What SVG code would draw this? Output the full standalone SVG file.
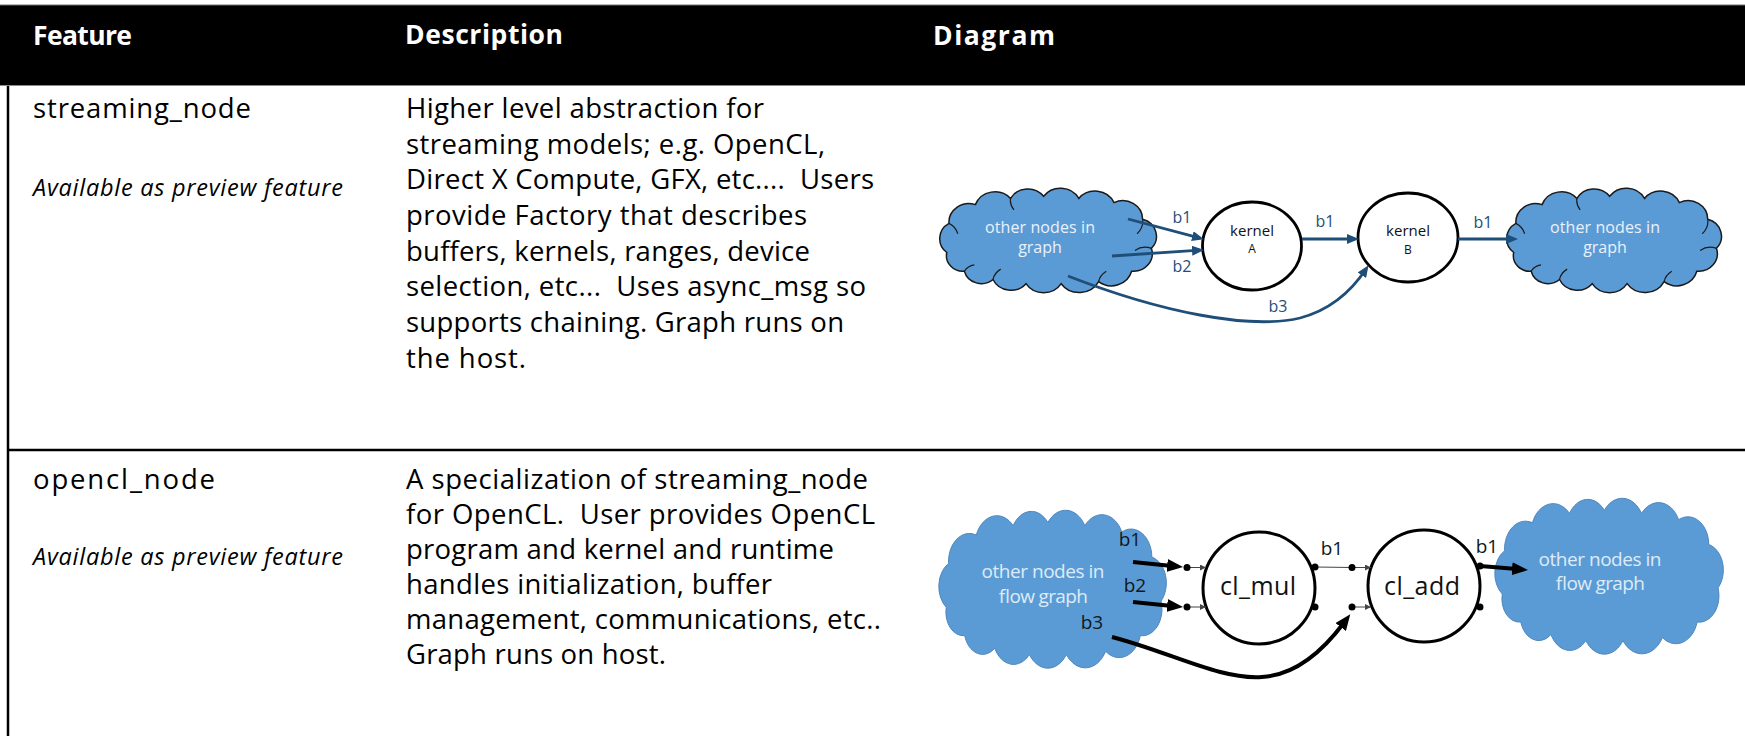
<svg xmlns="http://www.w3.org/2000/svg" width="1745" height="736" viewBox="0 0 1745 736">
  <style>
    text { font-family: "Open Sans", "Noto Sans", "Liberation Sans", sans-serif; white-space: pre; }
    .hdr { font-size: 26.5px; font-weight: 700; fill: #fff; }
    .feat { font-size: 27.5px; fill: #000; }
    .note { font-size: 23.5px; font-style: italic; fill: #000; }
    .desc { font-size: 27.5px; fill: #000; }
    .rule { stroke: #000; stroke-width: 2.5; fill: none; }
    .cloudA { fill: #5b9bd5; stroke: #1a1a1a; stroke-width: 1.5; }
    .cloudA-hooks { fill: none; stroke: #1a1a1a; stroke-width: 1.2; }
    .cloudB { fill: #5b9bd5; stroke: #4f86bd; stroke-width: 1; }
    .cloud-txtA { font-size: 16px; fill: #eaf1fb; text-anchor: middle; }
    .cloud-txtB { font-size: 19px; fill: #deebf7; text-anchor: middle; }
    .kern { fill: #fff; stroke: #000; stroke-width: 2.8; }
    .kern-txt { font-size: 15px; fill: #111; text-anchor: middle; }
    .kern-sub { font-size: 12px; fill: #111; text-anchor: middle; }
    .cl { fill: #fff; stroke: #000; stroke-width: 3; }
    .cl-txt { font-size: 25px; fill: #111; text-anchor: middle; }
    .navy { fill: none; stroke: #1f4e79; stroke-width: 2.8; marker-end: url(#headNavy); }
    .navy-lbl { font-size: 16px; fill: #1f4e79; text-anchor: middle; }
    .thick { fill: none; stroke: #000; stroke-width: 4; marker-end: url(#headBlack); }
    .thin { fill: none; stroke: #444; stroke-width: 1; }
    .thin-arrow { fill: none; stroke: #444; stroke-width: 1; marker-end: url(#headTiny); }
    .port { fill: #000; }
    .blk-lbl { font-size: 19px; fill: #101820; text-anchor: middle; }
  </style>
  <defs>
    <!-- cloud outline drawn in a 200 x 100 box -->
    <path id="cloudShape" vector-effect="non-scaling-stroke"
          d="M8,62 A17,17 0 0 1 10,34 A18,18 0 0 1 34,16 A19,19 0 0 1 66,10 A18,18 0 0 1 96,8 A19,19 0 0 1 128,10 A19,19 0 0 1 160,14 A18,18 0 0 1 186,30 A17,17 0 0 1 194,58 A17,17 0 0 1 176,80 A19,19 0 0 1 146,90 A20,20 0 0 1 112,92 A19,19 0 0 1 80,92 A18,18 0 0 1 50,88 A16,16 0 0 1 24,80 A15,15 0 0 1 8,62 Z"/>
    <!-- small inner arcs where the cloud bumps overlap -->
    <path id="cloudHooks" vector-effect="non-scaling-stroke"
          d="M10,34 Q16,37 18,44 M66,10 Q65,16 69,21 M186,30 Q187,38 181,44 M194,58 Q186,55 179,60 M146,90 Q147,84 153,80 M50,88 Q51,82 57,78 M24,80 Q27,75 33,74"/>
    <marker id="headNavy" viewBox="0 0 12 10" refX="8" refY="5" markerWidth="12" markerHeight="10" markerUnits="userSpaceOnUse" orient="auto">
      <path d="M0,0 L12,5 L0,10 z" fill="#1f4e79"/>
    </marker>
    <marker id="headBlack" viewBox="0 0 16 13" refX="5" refY="6.5" markerWidth="16" markerHeight="13" markerUnits="userSpaceOnUse" orient="auto">
      <path d="M0,0 L16,6.5 L0,13 z" fill="#000"/>
    </marker>
    <marker id="headTiny" viewBox="0 0 6 6" refX="6" refY="3" markerWidth="6" markerHeight="6" markerUnits="userSpaceOnUse" orient="auto">
      <path d="M0,0 L6,3 L0,6 z" fill="#444"/>
    </marker>
  </defs>

  <rect width="1745" height="736" fill="#fff"/>

  <!-- table frame -->
  <g id="table">
    <rect x="0" y="5" width="1745" height="80" fill="#000"/>
    <line x1="0" y1="5" x2="1745" y2="5" stroke="#6e6e6e" stroke-width="1"/>
    <line x1="0" y1="85.5" x2="1745" y2="85.5" stroke="#8a8a8a" stroke-width="1"/>
    <line class="rule" x1="8" y1="86" x2="8" y2="736" stroke-width="2"/>
    <line class="rule" x1="8" y1="450" x2="1745" y2="450"/>
  </g>

  <g id="header">
    <text class="hdr" x="33" y="45" textLength="99">Feature</text>
    <text class="hdr" x="405" y="44" textLength="158">Description</text>
    <text class="hdr" x="933" y="45" textLength="122">Diagram</text>
  </g>

  <g id="row-streaming-node">
    <text class="feat" x="33" y="118" textLength="218">streaming_node</text>
    <text class="note" x="33" y="196" textLength="310">Available as preview feature</text>
    <text class="desc" x="406" y="118" textLength="358">Higher level abstraction for</text>
    <text class="desc" x="406" y="154" textLength="419">streaming models; e.g. OpenCL,</text>
    <text class="desc" x="406" y="189" textLength="468">Direct X Compute, GFX, etc....  Users</text>
    <text class="desc" x="406" y="225" textLength="401">provide Factory that describes</text>
    <text class="desc" x="406" y="261" textLength="404">buffers, kernels, ranges, device</text>
    <text class="desc" x="406" y="296" textLength="460">selection, etc...  Uses async_msg so</text>
    <text class="desc" x="406" y="332" textLength="438">supports chaining. Graph runs on</text>
    <text class="desc" x="406" y="368" textLength="120">the host.</text>
  </g>

  <g id="row-opencl-node">
    <text class="feat" x="33" y="489" textLength="182">opencl_node</text>
    <text class="note" x="33" y="565" textLength="310">Available as preview feature</text>
    <text class="desc" x="406" y="489" textLength="462">A specialization of streaming_node</text>
    <text class="desc" x="406" y="524" textLength="469">for OpenCL.  User provides OpenCL</text>
    <text class="desc" x="406" y="559" textLength="428">program and kernel and runtime</text>
    <text class="desc" x="406" y="594" textLength="366">handles initialization, buffer</text>
    <text class="desc" x="406" y="629" textLength="475">management, communications, etc..</text>
    <text class="desc" x="406" y="664" textLength="260">Graph runs on host.</text>
  </g>

  <!-- streaming_node diagram -->
  <g id="sn-source-cloud">
    <use href="#cloudShape" class="cloudA" transform="translate(938,188) scale(1.1,1.04)"/>
    <use href="#cloudHooks" class="cloudA-hooks" transform="translate(938,188) scale(1.1,1.04)"/>
    <text class="cloud-txtA" x="1040" y="233" textLength="110">other nodes in</text>
    <text class="cloud-txtA" x="1040" y="253">graph</text>
  </g>
  <g id="sn-kernel-a">
    <ellipse class="kern" cx="1252" cy="246" rx="49.5" ry="44"/>
    <text class="kern-txt" x="1252" y="236">kernel</text>
    <text class="kern-sub" x="1252" y="253">A</text>
  </g>
  <g id="sn-kernel-b">
    <ellipse class="kern" cx="1408" cy="237.5" rx="50" ry="44.5"/>
    <text class="kern-txt" x="1408" y="236">kernel</text>
    <text class="kern-sub" x="1408" y="254">B</text>
  </g>
  <g id="sn-sink-cloud">
    <use href="#cloudShape" class="cloudA" transform="translate(1505,188) scale(1.09,1.04)"/>
    <use href="#cloudHooks" class="cloudA-hooks" transform="translate(1505,188) scale(1.09,1.04)"/>
    <text class="cloud-txtA" x="1605" y="233" textLength="110">other nodes in</text>
    <text class="cloud-txtA" x="1605" y="253">graph</text>
  </g>
  <g id="sn-connectors">
    <path class="navy" d="M1128,219 L1200.1,238.2"/>
    <path class="navy" d="M1112,256 L1200,250.2"/>
    <path class="navy" d="M1068,276 C1160,312 1250,330 1300,318 C1330,310 1351,292 1366.3,268.5"/>
    <path class="navy" d="M1302,239 L1355,239"/>
    <path class="navy" d="M1458,239 L1514,239"/>
    <text class="navy-lbl" x="1182" y="223">b1</text>
    <text class="navy-lbl" x="1182" y="272">b2</text>
    <text class="navy-lbl" x="1278" y="312">b3</text>
    <text class="navy-lbl" x="1325" y="227">b1</text>
    <text class="navy-lbl" x="1483" y="228">b1</text>
  </g>

  <!-- opencl_node diagram -->
  <g id="cl-source-cloud">
    <use href="#cloudShape" class="cloudB" transform="translate(937,510) scale(1.155,1.57)"/>
    <text class="cloud-txtB" x="1043" y="578" textLength="123">other nodes in</text>
    <text class="cloud-txtB" x="1043" y="603" textLength="89">flow graph</text>
  </g>
  <g id="cl-mul">
    <circle class="cl" cx="1259" cy="588" r="56"/>
    <text class="cl-txt" x="1258" y="595" textLength="76">cl_mul</text>
  </g>
  <g id="cl-add">
    <circle class="cl" cx="1424" cy="586" r="56"/>
    <text class="cl-txt" x="1422" y="595" textLength="76">cl_add</text>
  </g>
  <g id="cl-sink-cloud">
    <use href="#cloudShape" class="cloudB" transform="translate(1493,498) scale(1.16,1.55)"/>
    <text class="cloud-txtB" x="1600" y="566" textLength="123">other nodes in</text>
    <text class="cloud-txtB" x="1600" y="590" textLength="89">flow graph</text>
  </g>
  <g id="cl-connectors">
    <path class="thick" d="M1133,562 L1172.1,565.9"/>
    <path class="thick" d="M1133,602 L1172.1,605.9"/>
    <path class="thick" d="M1112,637 C1170,652 1220,680 1262,677 C1295,675 1322,652 1343.7,623"/>
    <path class="thick" d="M1480,566 L1517,569.1"/>
    <path class="thin-arrow" d="M1187,567.5 L1206,567.5"/>
    <path class="thin-arrow" d="M1187,607 L1206,607"/>
    <path class="thin" d="M1315,567 L1352,567.5"/>
    <path class="thin-arrow" d="M1352,567.5 L1371,567.5"/>
    <path class="thin-arrow" d="M1352,607 L1371,607"/>
    <circle class="port" cx="1187" cy="567.5" r="3.5"/>
    <circle class="port" cx="1187" cy="607" r="3.5"/>
    <circle class="port" cx="1315" cy="567" r="3.5"/>
    <circle class="port" cx="1315" cy="607" r="3.5"/>
    <circle class="port" cx="1352" cy="567.5" r="3.5"/>
    <circle class="port" cx="1352" cy="607" r="3.5"/>
    <circle class="port" cx="1480" cy="566" r="3.5"/>
    <circle class="port" cx="1480" cy="607" r="3.5"/>
    <text class="blk-lbl" x="1130" y="546">b1</text>
    <text class="blk-lbl" x="1135" y="592">b2</text>
    <text class="blk-lbl" x="1092" y="629">b3</text>
    <text class="blk-lbl" x="1332" y="555">b1</text>
    <text class="blk-lbl" x="1487" y="553">b1</text>
  </g>
</svg>
